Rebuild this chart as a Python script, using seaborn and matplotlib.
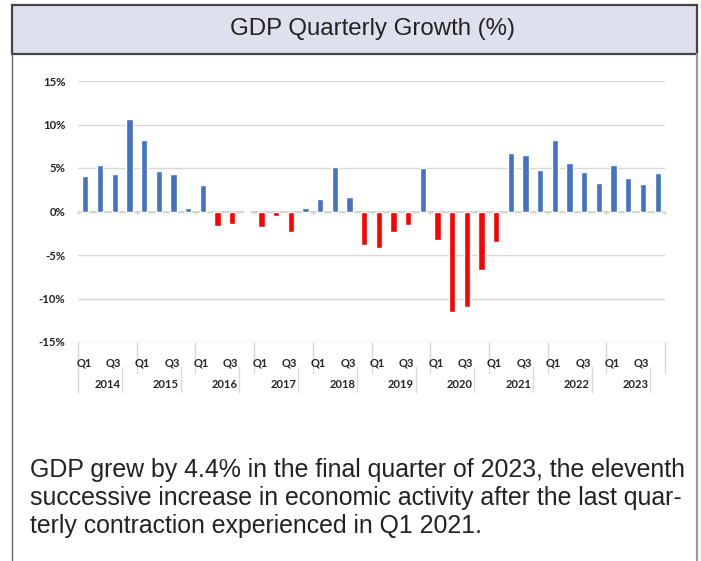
import matplotlib
matplotlib.use("Agg")
import matplotlib.pyplot as plt
import matplotlib.transforms as mtransforms
from matplotlib.patches import Rectangle
from matplotlib.lines import Line2D
import seaborn as sns
import pandas as pd

# ---- data ----
years = ["2014", "2015", "2016", "2017", "2018", "2019", "2020", "2021", "2022", "2023"]
quarters = ["Q1", "Q2", "Q3", "Q4"]
growth = [4.1, 5.4, 4.3, 10.6,
          8.2, 4.7, 4.3, 0.35,
          3.1, -1.7, -1.4, 0.1,
          -1.8, -0.5, -2.3, 0.4,
          1.4, 5.1, 1.7, -3.9,
          -4.2, -2.4, -1.6, 5.0,
          -3.3, -11.5, -11.0, -6.7,
          -3.5, 6.7, 6.5, 4.8,
          8.2, 5.6, 4.5, 3.3,
          5.3, 3.8, 3.2, 4.4]
shown_quarters = ["Q1", "Q3"]
yticks = [-15, -10, -5, 0, 5, 10, 15]
title = "GDP Quarterly Growth (%)"
caption = ["GDP grew by 4.4% in the final quarter of 2023, the eleventh",
           "successive increase in economic activity after the last quar-",
           "terly contraction experienced in Q1 2021."]

labels = [f"{y} {q}" for y in years for q in quarters]
df = pd.DataFrame({"period": labels, "growth": growth})
df["sign"] = ["up" if v >= 0 else "down" for v in df["growth"]]

W, H = 701, 561
sns.set_theme(style="white")
plt.rcParams["font.family"] = ["Liberation Sans", "DejaVu Sans"]
fig = plt.figure(figsize=(W / 100, H / 100), dpi=100)
fig.patch.set_facecolor("white")

def fx(px):
    return px / W

def fy(py):
    return 1 - py / H

# frame / title box
fig.add_artist(Rectangle((fx(12), fy(54)), fx(697) - fx(12), fy(5) - fy(54),
                         transform=fig.transFigure, facecolor="#DFE0EE",
                         edgecolor="#444444", linewidth=1.6, zorder=0))
fig.add_artist(Line2D([fx(12), fx(12)], [fy(54), 0], transform=fig.transFigure,
                      color="#666666", linewidth=1.0))
fig.add_artist(Line2D([fx(697), fx(697)], [fy(54), 0], transform=fig.transFigure,
                      color="#999999", linewidth=1.6))
fig.text(fx(372), fy(29), title, ha="center", va="center", fontsize=17.3,
         color="#222222")

ax = fig.add_axes([fx(78), fy(342), fx(665) - fx(78), fy(81) - fy(342)])
sns.barplot(data=df, x="period", y="growth", hue="sign", order=labels,
            palette={"up": "#4472C4", "down": "#FF0000"}, dodge=False,
            saturation=1, legend=False, width=0.43, ax=ax, zorder=3)
ax.set_xlim(-0.5, len(labels) - 0.5)
ax.set_ylim(-15, 15)
ax.set_yticks(yticks)
ax.set_yticklabels([f"{t}%" for t in yticks], fontsize=8.2, fontweight="bold",
                   family="Lato", color="#222222")
ax.tick_params(axis="y", length=0, pad=9)
ax.set_xticks([])
ax.set_xlabel("")
ax.set_ylabel("")
for s in ax.spines.values():
    s.set_visible(False)
for t in yticks:
    ax.axhline(t, color="#D9D9D9", linewidth=1.0, zorder=1)
ax.axhline(0, color="#D0D0D0", linewidth=1.2, zorder=2)

# category axis (multi-level)
trans = mtransforms.blended_transform_factory(ax.transData, fig.transFigure)
for k in range(len(years) + 1):
    xb = 4 * k - 0.5
    ax.plot([xb, xb], [0, -0.3], color="#D0D0D0", linewidth=1.0, clip_on=False, zorder=2)
    ax.plot([xb, xb], [fy(342), fy(373)], color="#D9D9D9", linewidth=1.0,
            transform=trans, clip_on=False)
for k in range(len(years)):
    xs = -0.5 if k == 0 else 4 * k - 1.5
    ax.plot([xs, xs], [fy(367), fy(392)], color="#D9D9D9", linewidth=1.0,
            transform=trans, clip_on=False)
ax.plot([4 * len(years) - 1.5] * 2, [fy(367), fy(392)], color="#D9D9D9",
        linewidth=1.0, transform=trans, clip_on=False)

for i, lab in enumerate(labels):
    q = lab.split()[1]
    if q in shown_quarters:
        ax.text(i - 0.1, fy(363), q, transform=trans, ha="center", va="center",
                fontsize=8, fontweight="bold", family="Lato", color="#222222")
for k, y in enumerate(years):
    ax.text(4 * k + 1.5, fy(384), y, transform=trans, ha="center", va="center",
            fontsize=8, fontweight="bold", family="Lato", color="#222222")

for j, line in enumerate(caption):
    fig.text(fx(30), fy(470 + 28 * j), line, ha="left", va="center",
             fontsize=17.9, color="#222222")

fig.savefig("out.png", dpi=100)
